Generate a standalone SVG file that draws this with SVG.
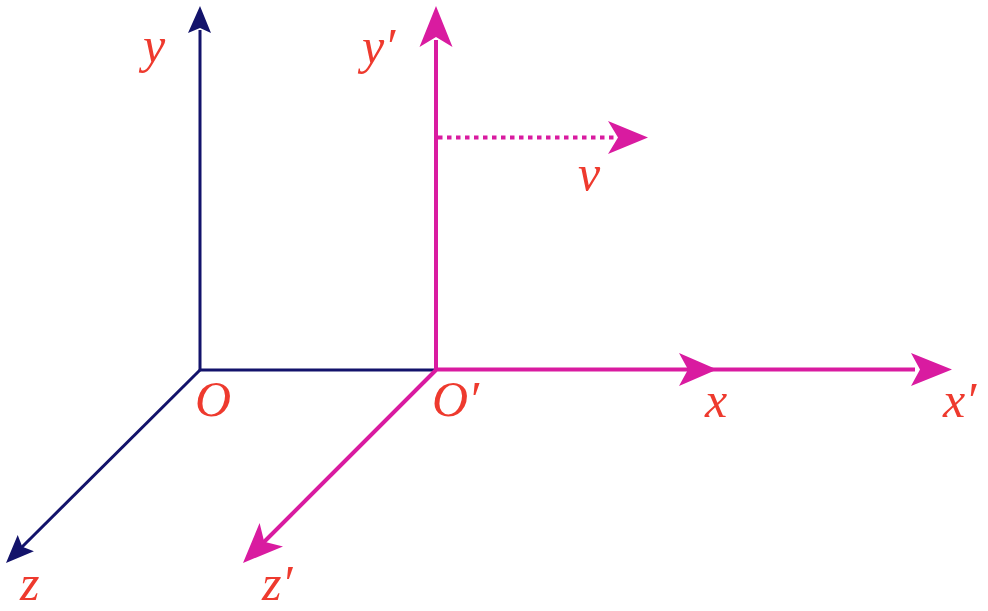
<svg xmlns="http://www.w3.org/2000/svg" width="988" height="611" viewBox="0 0 988 611">
<style>
.b{stroke:#13136B;stroke-width:3;fill:none}
.m{stroke:#D91BA0;stroke-width:4;fill:none}
.bh{fill:#13136B}
.mh{fill:#D91BA0}
.t{font-family:"Liberation Serif","DejaVu Serif",serif;font-style:italic;font-size:50px;fill:#EE3A2E}
</style>
<rect width="988" height="611" fill="#fff"/>
<g id="connectors">
<polyline class="b" points="200,30 200,370 436,370"/>
<line class="b" x1="200" y1="370" x2="22" y2="547"/>
<polygon class="bh" points="200,6 211,33 200,28 188,33"/>
<polygon class="bh" points="6,563 17.7,535.1 22.3,546.7 33.9,551.3"/>
<line class="m" x1="436" y1="370" x2="436" y2="40"/>
<line class="m" x1="436" y1="369.5" x2="915" y2="369.5"/>
<line class="m" x1="436" y1="370" x2="264" y2="542"/>
<line class="m" x1="438" y1="137.5" x2="618" y2="137.5" stroke-dasharray="4.5,4.5"/>
<polygon class="mh" points="436,6 452.5,47 436,37 419.5,47"/>
<polygon class="mh" points="648,137.5 608,154 618,137.5 608,121"/>
<polygon class="mh" points="717,369.5 679,386 688,369.5 679,353"/>
<polygon class="mh" points="952,369.5 911,386 920,369.5 911,353"/>
<polygon class="mh" points="243,563 259.6,523 264.2,541.8 283,546.4"/>
</g>
<g id="labels">
<text class="t" x="143" y="62">y</text>
<text class="t" x="362" y="63">y′</text>
<text class="t" x="195" y="416">O</text>
<text class="t" x="432" y="416">O′</text>
<text class="t" x="20" y="600">z</text>
<text class="t" x="262" y="600">z′</text>
<text class="t" x="578" y="190">v</text>
<text class="t" x="705" y="417">x</text>
<text class="t" x="943" y="417">x′</text>
</g>
</svg>
